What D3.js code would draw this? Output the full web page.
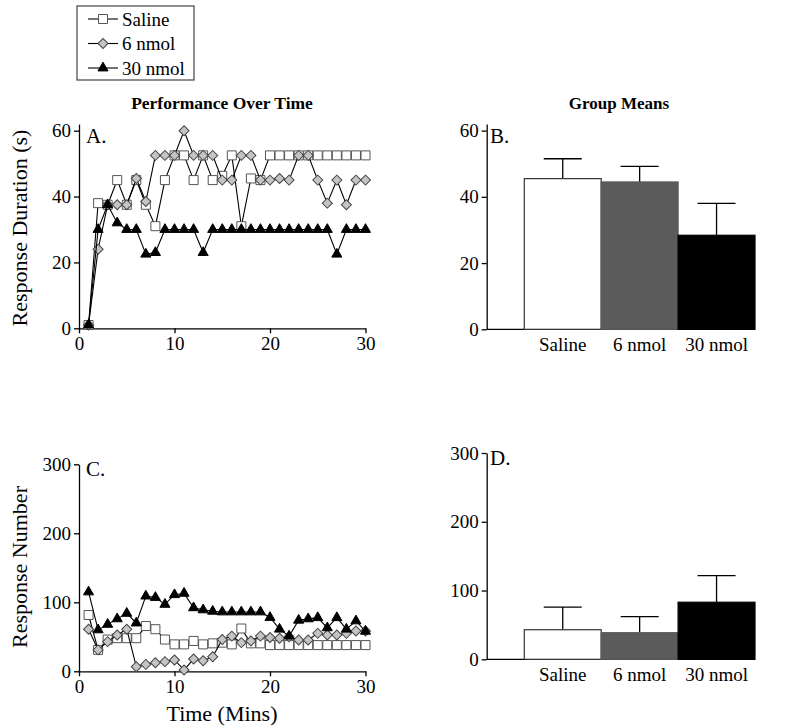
<!DOCTYPE html>
<html>
<head>
<meta charset="utf-8">
<script src="https://cdn.jsdelivr.net/npm/d3@7"></script>
<style>
body { margin: 0; background: #fff; }
svg { display: block; font-family: "Liberation Serif", "DejaVu Serif", serif; }
</style>
</head>
<body>
<svg id="chart" width="800" height="728"></svg>
<script>
// minute of session (x values of the time course panels)
const minutes = [1, 2, 3, 4, 5, 6, 7, 8, 9, 10, 11, 12, 13, 14, 15,
    16, 17, 18, 19, 20, 21, 22, 23, 24, 25, 26, 27, 28, 29, 30];
const groups = ['Saline', '6 nmol', '30 nmol'];

// A. response duration (s) per minute
const durationSaline = [1, 38, 37.5, 45, 37.5, 45, 37.5, 31, 45, 52.5, 52.5, 45, 52.5, 45, 46.3,
    52.5, 31, 45.5, 45, 52.5, 52.5, 52.5, 52.5, 52.5, 52.5, 52.5, 52.5, 52.5, 52.5, 52.5];
const duration6nmol = [1, 24, 37.5, 37.5, 37.5, 45.5, 38.5, 52.5, 52.5, 52.5, 60, 52.5, 52.5, 52.5, 45,
    45, 52.5, 52.5, 45, 45, 45.5, 45, 52.5, 52.5, 45, 38, 45, 37.5, 45, 45];
const duration30nmol = [1, 30, 37.5, 32, 30, 30, 22.5, 23, 30, 30, 30, 30, 23, 30, 30,
    30, 30, 30, 30, 30, 30, 30, 30, 30, 30, 30, 22.5, 30, 30, 30];

// C. response number per minute
const numberSaline = [81.6, 31, 46, 48, 48, 48, 65.6, 61, 46, 39, 39, 44, 39, 40.5, 41.5,
    39, 62, 40.5, 40.5, 38, 38, 38, 38, 38, 38, 38, 38, 38, 38, 38];
const number6nmol = [61, 31, 43, 52.6, 61, 6.7, 10, 12.5, 14, 16.4, 2, 17.8, 15.4, 21, 46,
    51, 41.5, 44, 51, 49, 47.8, 50, 45.4, 45.4, 55, 52.6, 52.6, 55, 58.4, 58.4];
const number30nmol = [115, 60, 68, 76, 84, 70, 109, 107, 97, 111, 113, 92, 89, 87, 86,
    86, 86, 86, 86, 78, 61, 51, 74, 76, 77.7, 63, 77.7, 61, 73, 58];

// B. and D. group means with upper error
const durationMeans = [45.5, 44.5, 28.4];
const durationErrors = [6.0, 4.7, 9.6];
const numberMeans = [43, 38.7, 83];
const numberErrors = [33, 23.3, 38.6];

const timeTicks = [0, 10, 20, 30];
const durationTicks = [0, 20, 40, 60];
const numberTicks = [0, 100, 200, 300];

const seriesStyles = [
    { shape: 'square', fill: '#fff', stroke: '#555' },
    { shape: 'diamond', fill: '#c4c4c4', stroke: '#444' },
    { shape: 'triangle', fill: '#000', stroke: '#000' }
];
const barColors = ['#fff', '#5b5b5b', '#000'];

const svg = d3.select('#chart');

function markerPath(shape) {
    if (shape === 'square') return d3.symbol(d3.symbolSquare, 81)();
    if (shape === 'diamond') return d3.symbol(d3.symbolSquare, 50)();
    return d3.symbol(d3.symbolTriangle, 44)();
}

function styleAxis(g) {
    g.select('.domain').attr('stroke', '#000').attr('stroke-width', 1.3);
    g.selectAll('.tick line').attr('stroke', '#000').attr('stroke-width', 1.3);
    g.selectAll('.tick text').attr('font-size', 19).attr('fill', '#000')
        .attr('font-family', '"Liberation Serif", serif');
}

function drawAxes(xScale, yScale, xTicks, yTicks) {
    let [y0] = yScale.range();
    let [x0] = xScale.range();
    svg.append('g')
        .attr('transform', `translate(0,${y0})`)
        .call(d3.axisBottom(xScale).tickValues(xTicks).tickSize(5).tickPadding(3).tickSizeOuter(0))
        .call(styleAxis);
    svg.append('g')
        .attr('transform', `translate(${x0},0)`)
        .call(d3.axisLeft(yScale).tickValues(yTicks).tickSize(5).tickPadding(3).tickSizeOuter(0))
        .call(styleAxis);
}

function drawTimePanel(seriesList, yScale, yTicks, label) {
    let xScale = d3.scaleLinear().domain([0, 30]).range([79, 365.5]);
    drawAxes(xScale, yScale, timeTicks, yTicks);

    let line = d3.line()
        .x((d, i) => xScale(minutes[i]))
        .y(d => yScale(d));

    seriesList.forEach((values, k) => {
        let style = seriesStyles[k];
        let g = svg.append('g');
        g.append('path')
            .attr('d', line(values))
            .attr('fill', 'none')
            .attr('stroke', '#000')
            .attr('stroke-width', 1.1);
        g.selectAll('path.mark').data(values)
            .enter().append('path')
            .attr('class', 'mark')
            .attr('d', markerPath(style.shape))
            .attr('transform', (d, i) => `translate(${xScale(minutes[i])},${yScale(d)})` +
                (style.shape === 'diamond' ? ' rotate(45)' : ''))
            .attr('fill', style.fill)
            .attr('stroke', style.stroke)
            .attr('stroke-width', 1);
    });

    svg.append('text')
        .attr('x', 86).attr('y', yScale.range()[1] + (label === 'A.' ? 19 : 12))
        .attr('font-size', 21)
        .text(label);
}

function drawBarPanel(means, errors, yScale, yTicks, label) {
    let [y0] = yScale.range();
    let axisX = 486.7;
    let xScale = d3.scaleBand().domain(groups).range([524.3, 755]).padding(0);

    svg.append('line')
        .attr('x1', axisX).attr('x2', 755)
        .attr('y1', y0).attr('y2', y0)
        .attr('stroke', '#000').attr('stroke-width', 1.3);

    let bars = svg.append('g');
    groups.forEach((name, i) => {
        let x = xScale(name);
        let w = xScale.bandwidth();
        let cx = x + w / 2;
        let top = yScale(means[i]);
        let errTop = yScale(means[i] + errors[i]);
        bars.append('line')
            .attr('x1', cx).attr('x2', cx).attr('y1', top).attr('y2', errTop)
            .attr('stroke', '#000').attr('stroke-width', 1.3);
        bars.append('line')
            .attr('x1', cx - 19).attr('x2', cx + 19).attr('y1', errTop).attr('y2', errTop)
            .attr('stroke', '#000').attr('stroke-width', 1.3);
        bars.append('rect')
            .attr('x', x).attr('y', top)
            .attr('width', w).attr('height', y0 - top)
            .attr('fill', barColors[i])
            .attr('stroke', i === 0 ? '#333' : barColors[i])
            .attr('stroke-width', 1.2);
    });

    svg.append('g')
        .attr('transform', `translate(0,${y0})`)
        .call(d3.axisBottom(xScale).tickSize(0).tickPadding(8))
        .call(g => g.select('.domain').remove())
        .call(styleAxis);

    svg.append('g')
        .attr('transform', `translate(${axisX},0)`)
        .call(d3.axisLeft(yScale).tickValues(yTicks).tickSize(5).tickPadding(3).tickSizeOuter(0))
        .call(styleAxis);

    svg.append('text')
        .attr('x', 490).attr('y', yScale.range()[1] + (label === 'B.' ? 19 : 12))
        .attr('font-size', 21)
        .text(label);
}

function drawLegend() {
    let legend = svg.append('g');
    legend.append('rect')
        .attr('x', 77).attr('y', 6).attr('width', 117).attr('height', 74)
        .attr('fill', '#fff').attr('stroke', '#444').attr('stroke-width', 1.2);
    groups.forEach((name, i) => {
        let y = 19 + i * 24.5;
        let style = seriesStyles[i];
        legend.append('line')
            .attr('x1', 88).attr('x2', 118).attr('y1', y).attr('y2', y)
            .attr('stroke', '#000').attr('stroke-width', 1.1);
        legend.append('path')
            .attr('d', markerPath(style.shape))
            .attr('transform', `translate(103,${y})` + (style.shape === 'diamond' ? ' rotate(45)' : ''))
            .attr('fill', style.fill).attr('stroke', style.stroke);
        legend.append('text')
            .attr('x', 122).attr('y', y + 6.5)
            .attr('font-size', 19)
            .text(name);
    });
}

function drawTitles() {
    svg.append('text').attr('x', 222).attr('y', 109)
        .attr('text-anchor', 'middle').attr('font-size', 17.5).attr('font-weight', 'bold')
        .text('Performance Over Time');
    svg.append('text').attr('x', 619).attr('y', 109)
        .attr('text-anchor', 'middle').attr('font-size', 17).attr('font-weight', 'bold')
        .text('Group Means');
    svg.append('text')
        .attr('transform', 'translate(27,228) rotate(-90)')
        .attr('text-anchor', 'middle').attr('font-size', 22)
        .text('Response Duration (s)');
    svg.append('text')
        .attr('transform', 'translate(27,567) rotate(-90)')
        .attr('text-anchor', 'middle').attr('font-size', 22)
        .text('Response Number');
    svg.append('text').attr('x', 222).attr('y', 721)
        .attr('text-anchor', 'middle').attr('font-size', 22)
        .text('Time (Mins)');
}

let yDuration = d3.scaleLinear().domain([0, 62]).range([328.3, 124.1]);
let yNumber = d3.scaleLinear().domain([0, 300]).range([671.3, 464.3]);
let yDurationBar = d3.scaleLinear().domain([0, 62]).range([329.3, 124]);
let yNumberBar = d3.scaleLinear().domain([0, 300]).range([659.3, 453]);

drawTitles();
drawLegend();
drawTimePanel([durationSaline, duration6nmol, duration30nmol], yDuration, durationTicks, 'A.');
drawTimePanel([numberSaline, number6nmol, number30nmol], yNumber, numberTicks, 'C.');
drawBarPanel(durationMeans, durationErrors, yDurationBar, durationTicks, 'B.');
drawBarPanel(numberMeans, numberErrors, yNumberBar, numberTicks, 'D.');
</script>
</body>
</html>
